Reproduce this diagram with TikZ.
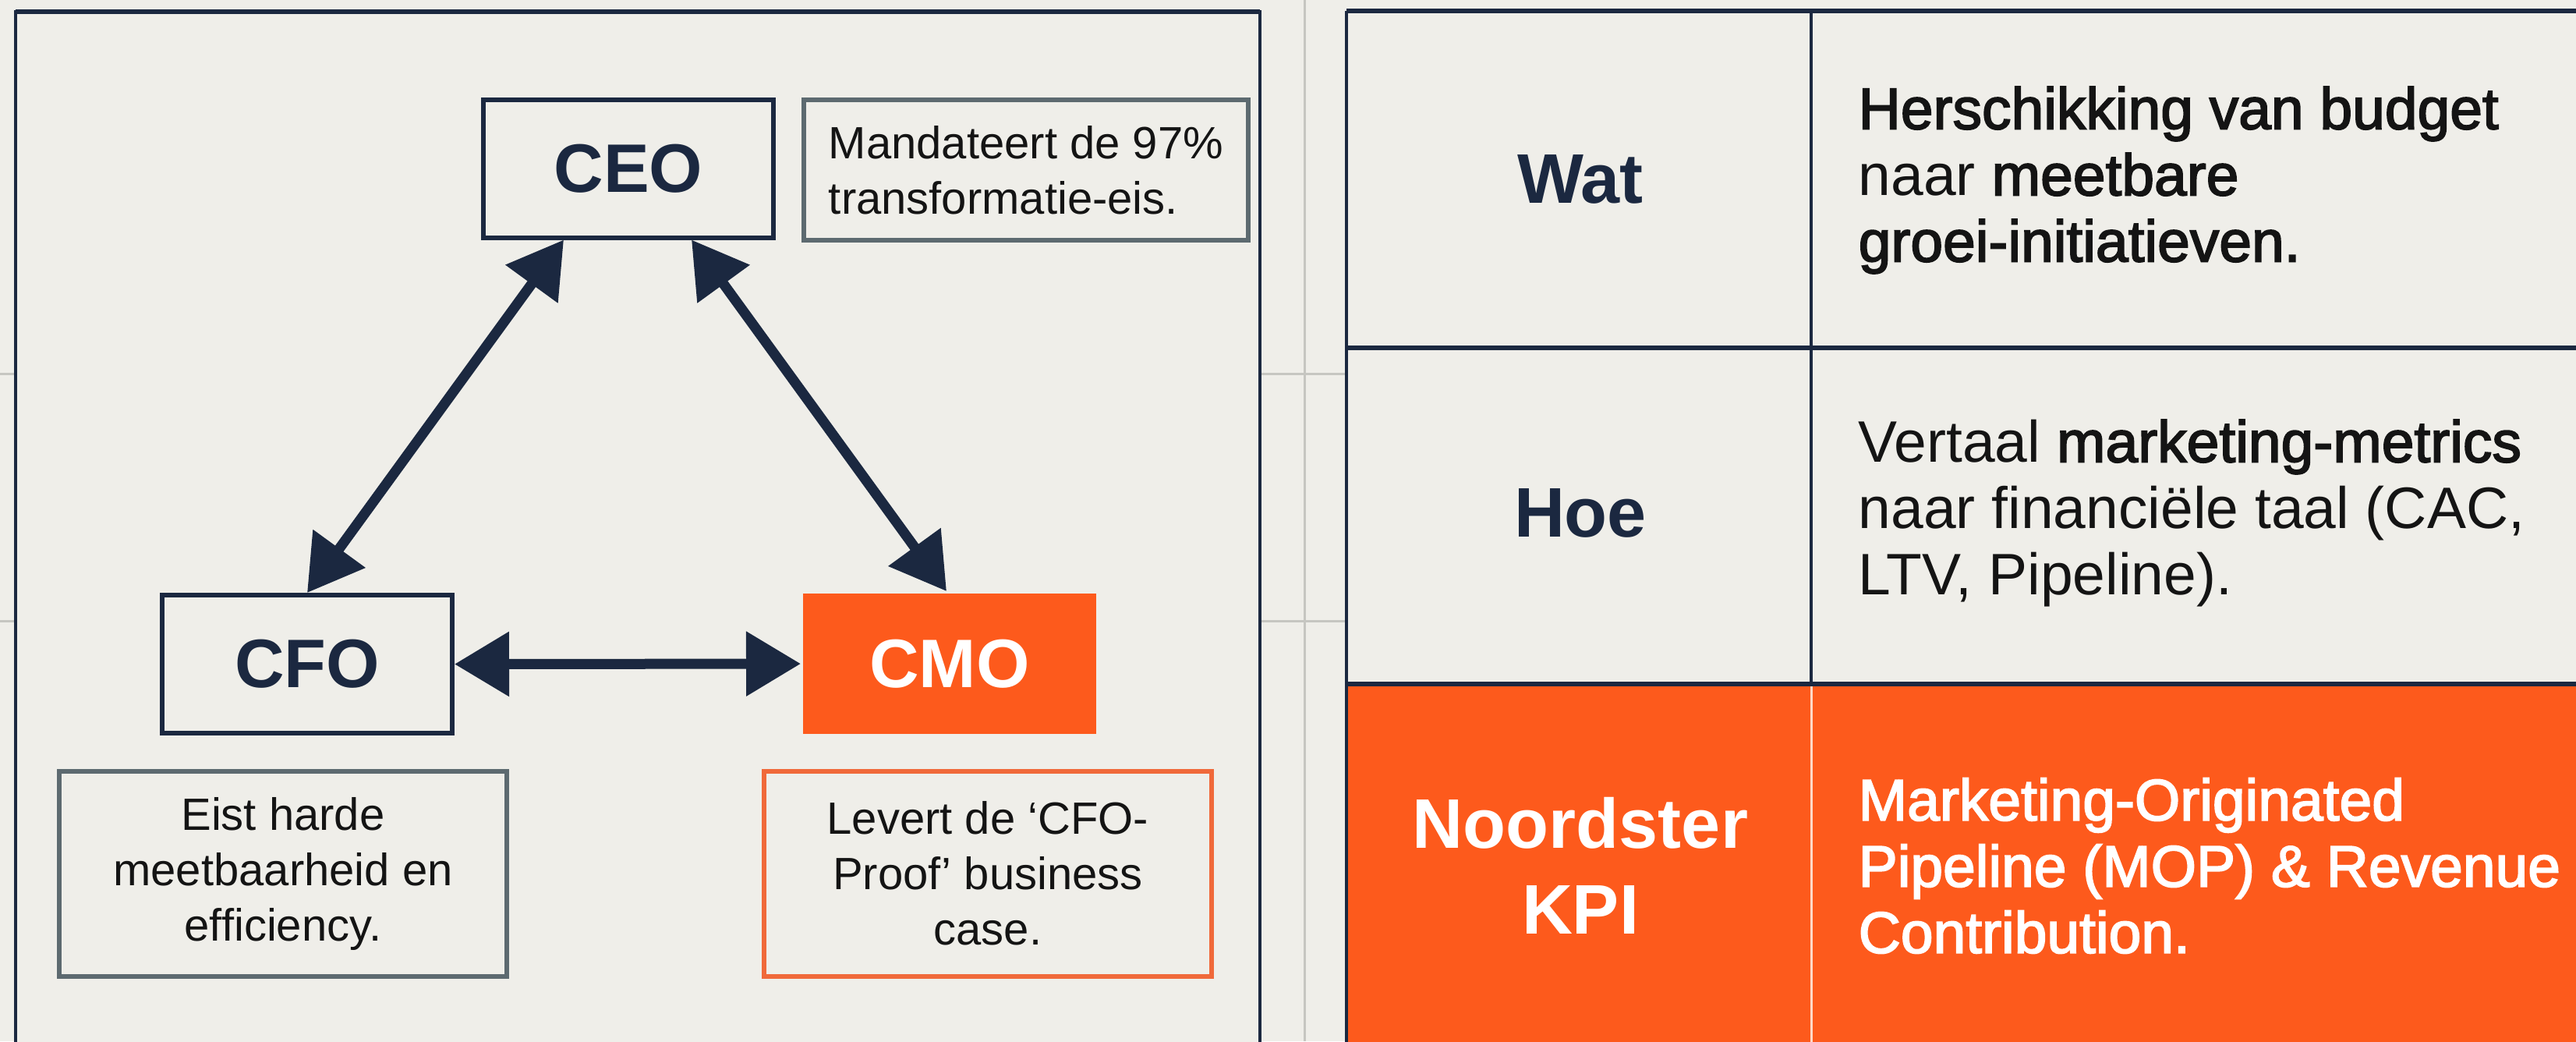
\documentclass[tikz,border=0pt]{standalone}
\usepackage{fontspec}
\setmainfont{Liberation Sans}
\newfontfamily\medfont[FakeBold=2.4]{Liberation Sans}
\usetikzlibrary{arrows.meta,calc}
\definecolor{navy}{HTML}{1B2840}
\definecolor{orng}{HTML}{FD5A1C}
\definecolor{orngline}{HTML}{F0693A}
\definecolor{bgc}{HTML}{EFEEE9}
\definecolor{boxgray}{HTML}{5D6A70}
\definecolor{gridc}{HTML}{C6C6C1}
\definecolor{txt}{HTML}{141414}
\definecolor{paleline}{HTML}{FFD9C8}
\begin{document}
\begin{tikzpicture}[x=1cm,y=1cm,
  rolebox/.style={draw=navy, line width=0.06cm, fill=bgc, minimum width=3.72cm, minimum height=1.77cm, inner sep=0pt, font=\bfseries\fontsize{0.88cm}{1cm}\selectfont, text=navy},
  notebox/.style={line width=0.06cm, fill=bgc, minimum width=5.74cm, minimum height=2.63cm, inner sep=0pt, align=center, text=txt, font=\fontsize{0.58cm}{0.71cm}\selectfont},
  conn/.style={draw=navy, line width=0.13cm, {Triangle[length=0.7cm,width=0.8cm]}-{Triangle[length=0.7cm,width=0.8cm]}},
  rowhead/.style={font=\bfseries\fontsize{0.9cm}{1.1cm}\selectfont, text=navy, align=center, inner sep=0pt},
  celltext/.style={anchor=west, align=left, font=\fontsize{0.75cm}{0.85cm}\selectfont, text=txt, inner sep=0pt},
  gridl/.style={draw=gridc, line width=0.03cm},
  panelline/.style={draw=navy, line width=0.045cm}
]
\useasboundingbox (0,0) rectangle (33.04,-13.35);
\clip (0,0) rectangle (33.04,-13.35);
\fill[bgc] (0,0) rectangle (33.04,-13.35);
% faint background grid
\draw[gridl] (16.73,0) -- (16.73,-13.35);
\draw[gridl] (0,-4.79) -- (33.04,-4.79);
\draw[gridl] (0,-7.96) -- (33.04,-7.96);
% left panel
\draw[panelline, fill=bgc] (0.20,-0.15) rectangle (16.16,-13.9);
\draw[navy, line width=0.06cm] (0.20,-0.15) -- (16.16,-0.15);
% right panel (table)
\fill[bgc] (17.27,-0.14) rectangle (33.6,-8.77);
\fill[orng] (17.27,-8.77) rectangle (33.6,-13.9);
\draw[panelline] (17.27,-13.9) -- (17.27,-0.14);
\draw[navy, line width=0.06cm] (17.27,-0.14) -- (33.6,-0.14);
\draw[panelline] (23.23,-0.14) -- (23.23,-8.77);
\draw[navy, line width=0.065cm] (17.27,-4.46) -- (33.6,-4.46);
\draw[navy, line width=0.065cm] (17.27,-8.77) -- (33.6,-8.77);
\draw[paleline, line width=0.03cm] (23.23,-8.80) -- (23.23,-13.9);

% role nodes
\node[rolebox] (ceo) at (8.06,-2.16) {CEO};
\node[rolebox] (cfo) at (3.94,-8.515) {CFO};
\node[rolebox, draw=none, fill=orng, text=white, minimum width=3.76cm, minimum height=1.80cm] (cmo) at (12.18,-8.51) {CMO};

% note boxes
\node[notebox, draw=boxgray, minimum width=5.70cm, minimum height=1.80cm, align=left] (mand) at (13.16,-2.18) {Mandateert de 97\%\\transformatie-eis.};
\node[notebox, draw=boxgray] (eist) at (3.63,-11.20) {Eist harde\\meetbaarheid en\\efficiency.};
\node[notebox, draw=orngline] (levert) at (12.67,-11.20) {Levert de ‘CFO-\\Proof’ business\\case.};

% connectors
\coordinate (ceoL) at ($(ceo.south)+(-0.83,0)$);
\coordinate (ceoR) at ($(ceo.south)+(0.81,0)$);
\draw[conn] (ceoL) -- (cfo.north);
\draw[conn] (ceoR) -- ($(cmo.north)+(-0.04,0)$);
\draw[conn] (cfo.east) -- (cmo.west);

% table texts
\node[rowhead] (wat) at (20.27,-2.30) {Wat};
\node[celltext] (watT) at (23.83,-2.31) {{\medfont Herschikking van budget}\\naar {\medfont meetbare}\\{\medfont groei-initiatieven.}};
\node[rowhead] (hoe) at (20.27,-6.58) {Hoe};
\node[celltext] (hoeT) at (23.83,-6.58) {Vertaal {\medfont marketing-metrics}\\naar financiële taal (CAC,\\LTV, Pipeline).};
\node[rowhead, text=white] (kpi) at (20.27,-11.10) {Noordster\\KPI};
\node[celltext, text=white, font=\medfont\fontsize{0.75cm}{0.85cm}\selectfont] (kpiT) at (23.83,-11.10) {Marketing-Originated\\Pipeline (MOP) \& Revenue\\Contribution.};
\end{tikzpicture}
\end{document}
